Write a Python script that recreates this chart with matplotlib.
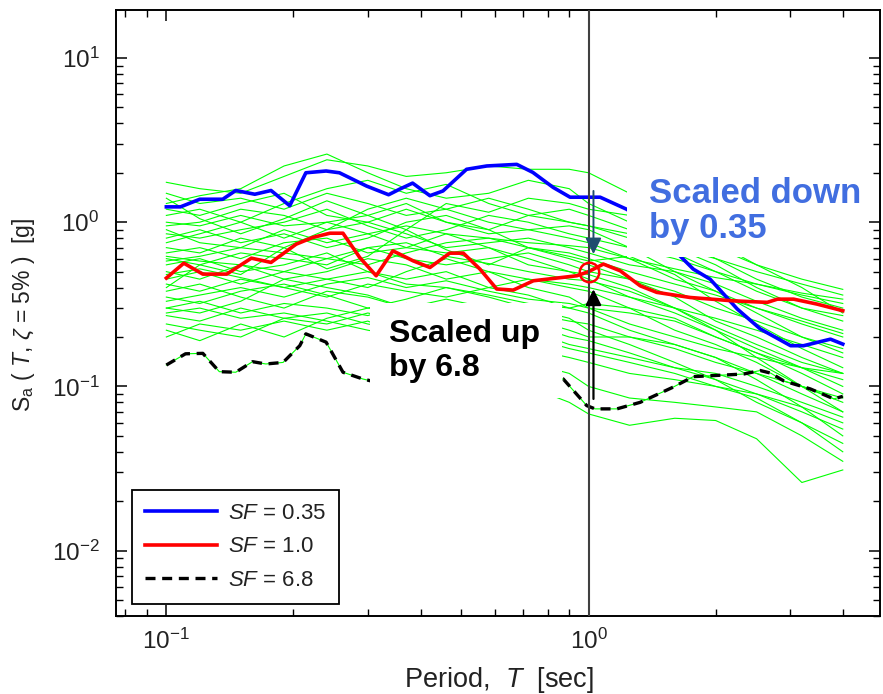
import matplotlib
matplotlib.use("Agg")
import matplotlib.pyplot as plt
from matplotlib.patches import Rectangle
import numpy as np

plt.rcParams['font.family'] = ['Liberation Sans', 'DejaVu Sans']
plt.rcParams['mathtext.fontset'] = 'custom'
plt.rcParams['mathtext.rm'] = 'Liberation Sans'
plt.rcParams['mathtext.it'] = 'Liberation Sans:italic'
plt.rcParams['mathtext.bf'] = 'Liberation Sans:bold'

# period of interest and target spectral acceleration there
T_star = 1.0
Sa_target = 0.5

# record scaled down (SF = 0.35)
T_blue = [0.1, 0.108, 0.120, 0.136, 0.146, 0.162, 0.177, 0.196, 0.214, 0.239,
          0.257, 0.298, 0.336, 0.357, 0.383, 0.421, 0.452, 0.514, 0.574, 0.676,
          0.738, 0.824, 0.904, 1.065, 1.23, 1.40, 1.65, 1.77, 1.94, 2.25,
          2.55, 3.01, 3.23, 3.74, 4.0]
Sa_blue = [1.24, 1.24, 1.38, 1.38, 1.56, 1.48, 1.56, 1.26, 2.00, 2.05,
           2.00, 1.66, 1.47, 1.59, 1.73, 1.45, 1.55, 2.10, 2.20, 2.25,
           2.01, 1.63, 1.42, 1.42, 1.20, 0.97, 0.62, 0.518, 0.45, 0.296,
           0.224, 0.177, 0.177, 0.194, 0.181]

# record used as is (SF = 1.0)
T_red = [0.1, 0.110, 0.122, 0.139, 0.159, 0.177, 0.203, 0.222, 0.244, 0.262,
         0.287, 0.314, 0.344, 0.357, 0.384, 0.421, 0.469, 0.505, 0.553, 0.606,
         0.663, 0.74, 0.938, 1.0, 1.084, 1.188, 1.325, 1.45, 1.74, 2.20,
         2.65, 2.80, 3.06, 3.48, 4.0]
Sa_red = [0.457, 0.563, 0.483, 0.483, 0.604, 0.569, 0.735, 0.807, 0.857, 0.857,
          0.61, 0.472, 0.669, 0.639, 0.582, 0.530, 0.648, 0.648, 0.518, 0.392,
          0.386, 0.44, 0.472, 0.50, 0.556, 0.506, 0.41, 0.374, 0.348, 0.332,
          0.325, 0.34, 0.34, 0.317, 0.289]

# record scaled up (SF = 6.8)
T_black = [0.1, 0.111, 0.122, 0.1335, 0.146, 0.160, 0.172, 0.189, 0.207, 0.214,
           0.239, 0.262, 0.292, 0.32, 0.357, 0.421, 0.496, 0.584, 0.688, 0.80,
           0.871, 0.99, 1.036, 1.167, 1.325, 1.586, 1.77, 2.33, 2.55, 2.70,
           2.90, 3.35, 3.81, 4.0]
Sa_black = [0.135, 0.158, 0.159, 0.123, 0.122, 0.1415, 0.137, 0.14, 0.177, 0.209,
            0.186, 0.122, 0.111, 0.105, 0.094, 0.0876, 0.099, 0.105, 0.108, 0.108,
            0.111, 0.0764, 0.073, 0.073, 0.080, 0.099, 0.1147, 0.119, 0.125, 0.1205,
            0.108, 0.0966, 0.084, 0.087]

# the rest of the ground motion set
T_rec = [0.1, 0.12, 0.15, 0.19, 0.24, 0.3, 0.37, 0.46, 0.58, 0.72,
         0.9, 1.0, 1.25, 1.6, 2.0, 2.5, 3.2, 4.0]
Sa_rec = [
    [1.75, 1.6, 1.5, 1.9, 2.4, 2.2, 1.9, 2.0, 2.2, 2.1, 2.1, 2.0, 1.5, 1.0, 0.75, 0.55, 0.45, 0.39],
    [1.3, 1.45, 1.6, 2.2, 2.6, 2.0, 1.6, 1.4, 1.5, 1.8, 1.6, 1.3, 1.0, 0.8, 0.6, 0.45, 0.35, 0.3],
    [1.1, 1.2, 1.0, 1.3, 1.6, 1.8, 1.5, 1.7, 1.3, 1.1, 1.2, 1.1, 0.9, 0.7, 0.55, 0.4, 0.3, 0.25],
    [0.95, 1.0, 1.2, 1.1, 0.9, 1.2, 1.4, 1.2, 1.0, 0.9, 0.8, 0.75, 0.6, 0.45, 0.38, 0.3, 0.24, 0.2],
    [0.85, 0.8, 0.9, 1.0, 1.2, 0.95, 0.8, 0.9, 1.1, 1.0, 0.85, 0.8, 0.7, 0.6, 0.5, 0.38, 0.3, 0.27],
    [0.8, 0.9, 0.75, 0.85, 0.7, 0.8, 1.0, 1.1, 0.9, 0.7, 0.6, 0.55, 0.45, 0.35, 0.25, 0.2, 0.15, 0.12],
    [0.7, 0.65, 0.8, 0.7, 0.9, 1.0, 0.85, 0.7, 0.75, 0.8, 0.7, 0.65, 0.55, 0.5, 0.42, 0.33, 0.26, 0.22],
    [0.65, 0.7, 0.6, 0.75, 0.8, 0.65, 0.7, 0.85, 0.7, 0.6, 0.5, 0.45, 0.35, 0.28, 0.22, 0.17, 0.13, 0.1],
    [0.6, 0.55, 0.65, 0.6, 0.55, 0.7, 0.6, 0.55, 0.6, 0.65, 0.55, 0.5, 0.45, 0.38, 0.3, 0.25, 0.2, 0.17],
    [0.55, 0.6, 0.5, 0.55, 0.65, 0.5, 0.45, 0.5, 0.4, 0.45, 0.4, 0.38, 0.3, 0.22, 0.18, 0.14, 0.1, 0.08],
    [0.5, 0.45, 0.55, 0.45, 0.5, 0.6, 0.55, 0.45, 0.5, 0.4, 0.35, 0.3, 0.28, 0.25, 0.2, 0.16, 0.12, 0.09],
    [0.45, 0.5, 0.42, 0.5, 0.45, 0.4, 0.5, 0.6, 0.5, 0.45, 0.42, 0.4, 0.35, 0.3, 0.26, 0.22, 0.18, 0.15],
    [0.42, 0.38, 0.45, 0.4, 0.35, 0.42, 0.38, 0.35, 0.4, 0.36, 0.3, 0.28, 0.22, 0.18, 0.15, 0.12, 0.09, 0.07],
    [0.38, 0.42, 0.35, 0.3, 0.38, 0.35, 0.3, 0.34, 0.3, 0.28, 0.25, 0.24, 0.2, 0.17, 0.14, 0.12, 0.1, 0.085],
    [0.35, 0.32, 0.38, 0.42, 0.36, 0.3, 0.34, 0.4, 0.35, 0.3, 0.26, 0.22, 0.18, 0.14, 0.11, 0.08, 0.06, 0.045],
    [0.3, 0.33, 0.28, 0.32, 0.3, 0.27, 0.32, 0.3, 0.26, 0.24, 0.2, 0.19, 0.16, 0.13, 0.11, 0.09, 0.07, 0.055],
    [0.27, 0.25, 0.3, 0.26, 0.24, 0.28, 0.25, 0.22, 0.25, 0.22, 0.18, 0.17, 0.15, 0.13, 0.12, 0.1, 0.08, 0.065],
    [0.24, 0.22, 0.2, 0.26, 0.28, 0.24, 0.22, 0.2, 0.18, 0.17, 0.15, 0.14, 0.12, 0.11, 0.1, 0.085, 0.06, 0.04],
    [0.2, 0.24, 0.22, 0.25, 0.22, 0.25, 0.2, 0.19, 0.17, 0.14, 0.12, 0.1, 0.085, 0.08, 0.075, 0.07, 0.05, 0.035],
    [0.28, 0.3, 0.26, 0.28, 0.25, 0.22, 0.2, 0.16, 0.13, 0.1, 0.08, 0.068, 0.058, 0.064, 0.062, 0.048, 0.026, 0.031],
    [1.5, 1.3, 1.4, 1.2, 1.5, 1.3, 1.1, 1.2, 1.4, 1.2, 1.0, 0.95, 0.8, 0.65, 0.5, 0.42, 0.36, 0.32],
    [1.2, 1.1, 1.3, 1.5, 1.1, 1.0, 1.2, 1.0, 0.85, 0.9, 0.95, 0.9, 0.7, 0.5, 0.38, 0.28, 0.2, 0.16],
    [0.75, 0.85, 1.0, 0.8, 1.0, 1.1, 1.3, 1.0, 0.9, 1.1, 1.0, 0.95, 0.85, 0.7, 0.6, 0.5, 0.42, 0.36],
    [0.9, 0.75, 0.7, 0.9, 0.75, 0.85, 0.7, 0.65, 0.7, 0.55, 0.5, 0.48, 0.4, 0.3, 0.22, 0.15, 0.1, 0.07],
    [0.58, 0.62, 0.7, 0.65, 0.6, 0.55, 0.65, 0.75, 0.8, 0.7, 0.65, 0.6, 0.5, 0.42, 0.36, 0.3, 0.25, 0.21],
    [0.48, 0.52, 0.46, 0.4, 0.45, 0.5, 0.42, 0.4, 0.36, 0.32, 0.3, 0.32, 0.3, 0.26, 0.2, 0.16, 0.13, 0.11],
    [0.33, 0.36, 0.4, 0.35, 0.42, 0.46, 0.4, 0.44, 0.38, 0.34, 0.32, 0.3, 0.24, 0.2, 0.17, 0.15, 0.13, 0.12],
    [1.0, 0.95, 1.1, 0.95, 1.0, 0.85, 0.95, 0.85, 0.8, 0.75, 0.72, 0.7, 0.6, 0.52, 0.46, 0.42, 0.37, 0.34],
    [0.62, 0.58, 0.55, 0.5, 0.6, 0.7, 0.75, 0.62, 0.56, 0.5, 0.45, 0.44, 0.38, 0.3, 0.23, 0.18, 0.14, 0.12],
    [0.22, 0.19, 0.24, 0.2, 0.26, 0.3, 0.28, 0.26, 0.24, 0.2, 0.17, 0.16, 0.14, 0.12, 0.1, 0.09, 0.075, 0.06],
    [0.4, 0.55, 0.48, 0.7, 0.52, 0.62, 0.9, 0.68, 0.55, 0.7, 0.62, 0.58, 0.62, 0.48, 0.33, 0.24, 0.17, 0.13],
    [1.4, 1.05, 0.85, 1.05, 1.35, 1.1, 0.9, 1.3, 1.15, 1.4, 1.3, 1.2, 1.1, 0.85, 0.7, 0.55, 0.4, 0.28],
    [0.3, 0.28, 0.33, 0.45, 0.4, 0.36, 0.3, 0.27, 0.3, 0.26, 0.22, 0.2, 0.2, 0.18, 0.15, 0.11, 0.075, 0.05],
]

legend_labels = [r'$\it{SF}$ = 0.35', r'$\it{SF}$ = 1.0', r'$\it{SF}$ = 6.8']

fig = plt.figure(figsize=(8.83, 6.94), dpi=100)
ax = fig.add_axes([0.1314, 0.1124, 0.8652, 0.8732])

green = '#00ff00'
for sa in Sa_rec:
    ax.plot(T_rec, sa, color=green, lw=0.8, zorder=2)
for t, sa in [(T_blue, Sa_blue), (T_red, Sa_red), (T_black, Sa_black)]:
    ax.plot(t, sa, color=green, lw=0.8, zorder=2)

ax.plot(T_blue, Sa_blue, color='#0000ff', lw=2.6, zorder=3, label=legend_labels[0])
ax.plot(T_red, Sa_red, color='#ff0000', lw=2.6, zorder=3, label=legend_labels[1])
ax.plot(T_black, Sa_black, color='black', lw=2.4, ls=(0, (3, 2)), zorder=3,
        label=legend_labels[2])

ax.axvline(T_star, color='#404040', lw=1.5, zorder=4)
ax.plot([T_star], [Sa_target], marker='o', ms=14, mfc='none', mec='#ff0000',
        mew=1.8, zorder=4.5)

ax.set_xscale('log')
ax.set_yscale('log')
ax.set_xlim(0.076, 4.9)
ax.set_ylim(0.004, 19.6)

ax.tick_params(which='both', direction='in', top=True, right=True,
               colors='black', labelcolor='#222222')
ax.tick_params(which='major', length=8, width=1.1, labelsize=17.5)
ax.tick_params(which='minor', length=5, width=1.0)
ax.tick_params(axis='y', pad=12)
ax.tick_params(axis='x', pad=9)
for sp in ax.spines.values():
    sp.set_linewidth(1.4)

ax.set_xlabel(r'Period,  $T$  [sec]', fontsize=19.5, color='#222222')
ax.set_ylabel(r'S$_{\rm a}$ ( $T$, $\zeta$ = 5% )  [g]', fontsize=16.5, color='#222222')
ax.xaxis.set_label_coords(0.5007, -0.081)
ax.yaxis.set_label_coords(-0.104, 0.497)

leg = ax.legend(loc='lower left', bbox_to_anchor=(0.021, 0.02), borderaxespad=0,
                fontsize=16, handlelength=3.2, handletextpad=0.5, labelspacing=0.55,
                borderpad=0.6, fancybox=False, framealpha=1, edgecolor='black')
leg.get_frame().set_linewidth(1.3)
for txt in leg.get_texts():
    txt.set_color('#222222')

# white callout boxes on top of the spectra
ax.add_patch(Rectangle((0.332, 0.360), 0.252, 0.157, transform=ax.transAxes,
                       facecolor='white', edgecolor='none', zorder=5))
ax.text(0.357, 0.437, 'Scaled up\nby 6.8', transform=ax.transAxes, fontsize=23,
        fontweight='bold', color='black', ha='left', va='center',
        linespacing=1.15, zorder=6)
ax.add_patch(Rectangle((0.669, 0.592), 0.311, 0.160, transform=ax.transAxes,
                       facecolor='white', edgecolor='none', zorder=5))
ax.text(0.697, 0.668, 'Scaled down\nby 0.35', transform=ax.transAxes, fontsize=25,
        fontweight='bold', color='#416ee0', ha='left', va='center',
        linespacing=1.1, zorder=6)

# arrows pointing at the target value
T_arrow = T_star * 1.027
head = '-|>,head_length=0.6,head_width=0.3'
ax.annotate('', xy=(T_arrow, Sa_target * 1.28), xytext=(T_arrow, Sa_target * 3.1),
            arrowprops=dict(arrowstyle=head, color='#1f4e6e', lw=1.4,
                            mutation_scale=16, shrinkA=0, shrinkB=0), zorder=6)
ax.annotate('', xy=(T_arrow, Sa_target / 1.28), xytext=(T_arrow, Sa_target / 5.96),
            arrowprops=dict(arrowstyle=head, color='black', lw=1.6,
                            mutation_scale=16, shrinkA=0, shrinkB=0), zorder=6)

fig.savefig('out.png', dpi=100)
